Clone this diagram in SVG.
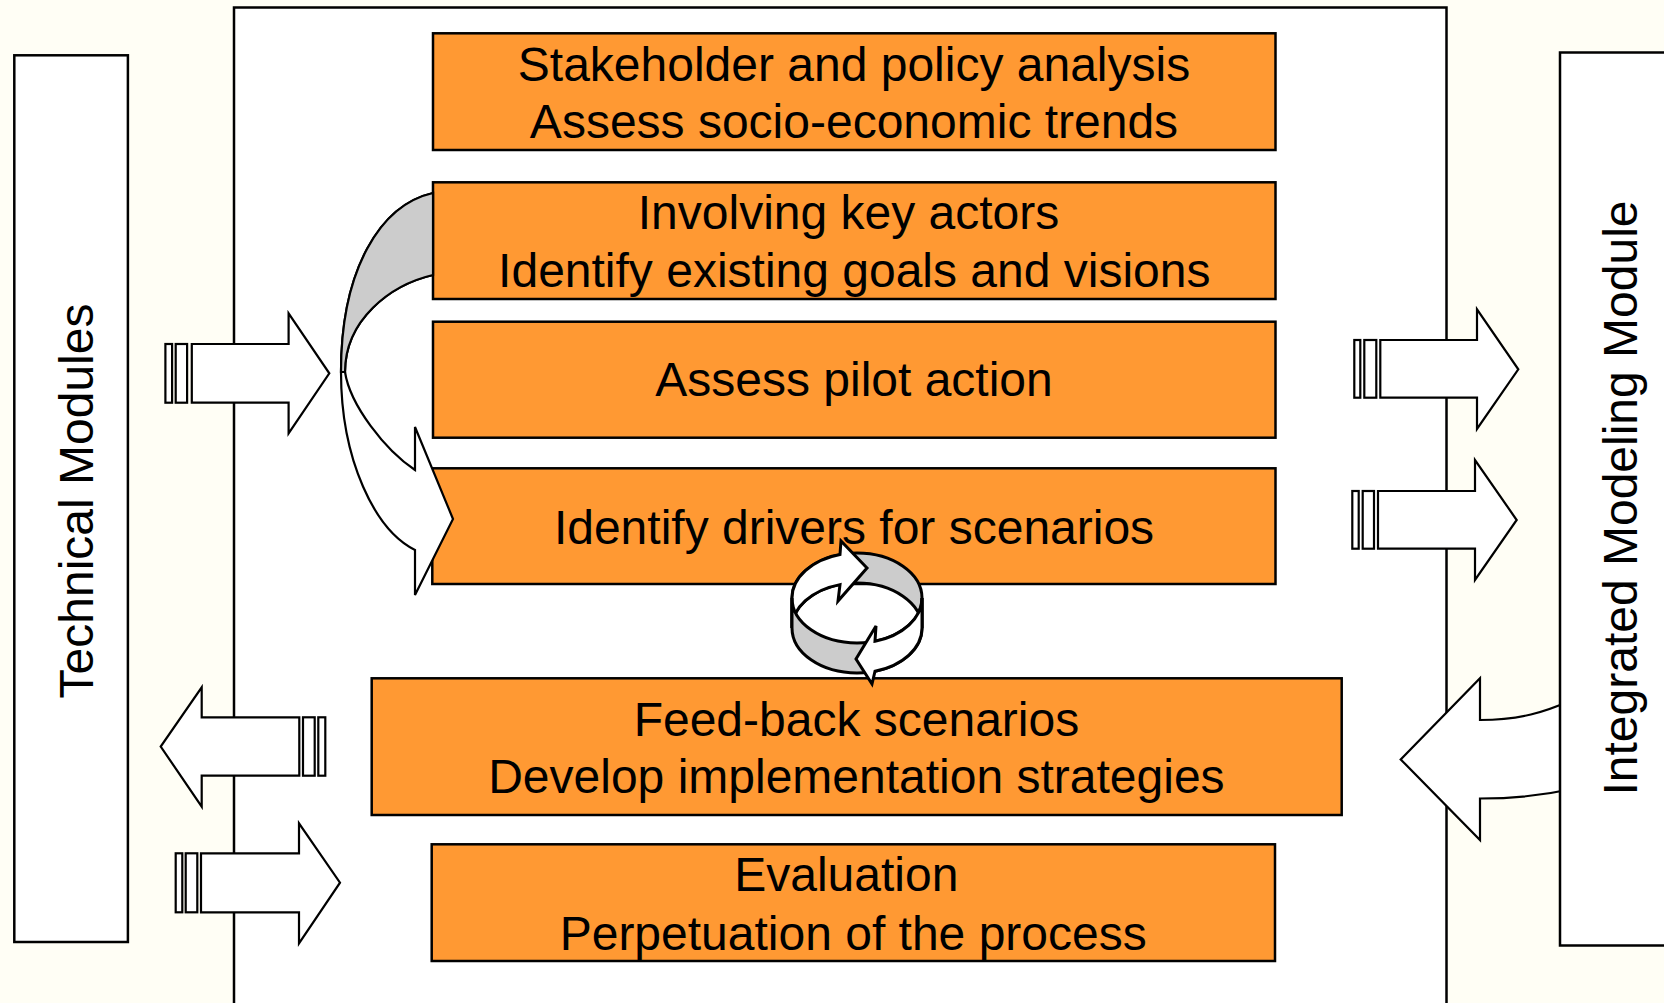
<svg xmlns="http://www.w3.org/2000/svg" width="1664" height="1003" viewBox="0 0 1664 1003">
<style>
.frame{fill:#ffffff;stroke:#000;stroke-width:2.5}
.box{fill:#ff9933;stroke:#000;stroke-width:2.5}
.lbl{font-family:"Liberation Sans",Arial,sans-serif;font-size:48px;fill:#000;text-anchor:middle}
.arr{fill:#ffffff;stroke:#000;stroke-width:2.2;stroke-linejoin:miter}
.gray{fill:#cccccc;stroke:#000;stroke-width:2.2}
.cyc{stroke:#000;stroke-width:3;stroke-linejoin:miter}
</style>
<rect x="0" y="0" width="1664" height="1003" fill="#fffef5"/>
<g id="process-frame"><rect class="frame" x="234" y="7.5" width="1212.5" height="1010"/></g>
<g id="technical-modules">
<rect class="frame" x="14.3" y="55.3" width="113.6" height="886.7"/>
<text class="lbl" transform="translate(93.3,501) rotate(-90)">Technical Modules</text>
</g>
<g id="box1">
<rect class="box" x="433" y="33.3" width="842.5" height="116.7"/>
<text class="lbl" x="854" y="81">Stakeholder and policy analysis</text>
<text class="lbl" x="854" y="137.7">Assess socio-economic trends</text>
</g>
<g id="box2">
<rect class="box" x="433" y="182.3" width="842.5" height="116.7"/>
<text class="lbl" x="848.5" y="229.3">Involving key actors</text>
<text class="lbl" x="854.3" y="286.7">Identify existing goals and visions</text>
</g>
<g id="box3">
<rect class="box" x="433" y="321.7" width="842.5" height="116"/>
<text class="lbl" x="854" y="396">Assess pilot action</text>
</g>
<g id="box4">
<rect class="box" x="432.3" y="468.3" width="843.2" height="115.7"/>
<text class="lbl" x="854" y="544">Identify drivers for scenarios</text>
</g>
<g id="box5">
<rect class="box" x="371.7" y="678.3" width="970" height="136.7"/>
<text class="lbl" x="856.4" y="736">Feed-back scenarios</text>
<text class="lbl" x="856.4" y="792.7">Develop implementation strategies</text>
</g>
<g id="box6">
<rect class="box" x="431.7" y="844.3" width="843.3" height="116.7"/>
<text class="lbl" x="846.3" y="891">Evaluation</text>
<text class="lbl" x="853.2" y="950">Perpetuation of the process</text>
</g>
<g id="connectors">
<g id="loop-arrow">
<path class="arr" d="M433,193 C380,205 341,270 341,372 C341,460 375,530 415,550 L415,595 L453,519 L415,427 L415,470 C385,450 350,405 345,372 C345,320 390,285 433,275 Z"/>
<path class="gray" d="M433,193 C380,205 341,270 341,372 L345,372 C345,320 390,285 433,275 Z"/>
</g>
<g id="arrow-in-top-left">
<rect class="arr" x="165.4" y="344" width="6.7" height="58.7"/>
<rect class="arr" x="175.7" y="344" width="11.4" height="58.7"/>
<path class="arr" d="M191.8,344 L288.6,344 L288.6,313.3 L329.3,373.3 L288.6,433.3 L288.6,402.7 L191.8,402.7 Z"/>
</g>
<g id="arrow-out-left">
<rect class="arr" x="303" y="717.3" width="11.7" height="58.4"/>
<rect class="arr" x="318.3" y="717.3" width="7" height="58.4"/>
<path class="arr" d="M299.3,717.3 L201.7,717.3 L201.7,687.3 L160.7,746.5 L201.7,806.7 L201.7,775.7 L299.3,775.7 Z"/>
</g>
<g id="arrow-in-bottom-left">
<rect class="arr" x="175.7" y="853.3" width="6.6" height="59"/>
<rect class="arr" x="185.7" y="853.3" width="11.6" height="59"/>
<path class="arr" d="M201,853.3 L299,853.3 L299,823.3 L340,882.7 L299,943.3 L299,912.3 L201,912.3 Z"/>
</g>
<g id="arrow-out-right-1">
<rect class="arr" x="1354.3" y="340" width="6" height="57.7"/>
<rect class="arr" x="1364.3" y="340" width="12" height="57.7"/>
<path class="arr" d="M1380.3,340 L1477,340 L1477,309.3 L1518.3,369.3 L1477,429 L1477,397.7 L1380.3,397.7 Z"/>
</g>
<g id="arrow-out-right-2">
<rect class="arr" x="1352.3" y="491" width="6.4" height="57.7"/>
<rect class="arr" x="1362.7" y="491" width="11.3" height="57.7"/>
<path class="arr" d="M1378,491 L1475,491 L1475,460 L1516.7,520 L1475,580 L1475,548.7 L1378,548.7 Z"/>
</g>
<g id="arrow-in-right">
<path class="arr" d="M1572,700 C1545,712 1520,720 1480,720 L1480,678.2 L1400.7,759.4 L1480,840 L1480,798.5 C1520,798.5 1545,795 1572,789 Z"/>
</g>
</g>
<g id="cycle-icon">
<path class="cyc" fill="#cccccc" d="M792,598 A65,45 0 0 1 922,598 L922,628 A65,45 0 0 0 792,628 Z"/>
<path class="cyc" fill="#ffffff" d="M792,598 A65,45 0 0 1 840,554.6 L841,541 L867,568 L838,601 L840,584.6 A65,45 0 0 0 792,628 Z"/>
<path class="cyc" fill="#cccccc" d="M792,598 A65,45 0 0 0 922,598 L922,628 A65,45 0 0 1 792,628 Z"/>
<path class="cyc" fill="#ffffff" d="M922,598 A65,45 0 0 1 875,641.2 L876,626 L856,659 L872,684 L875,671.2 A65,45 0 0 0 922,628 Z"/>
</g>
<g id="integrated-modeling-module">
<rect class="frame" x="1560" y="52.5" width="150" height="893"/>
<text class="lbl" transform="translate(1636.7,498) rotate(-90)">Integrated Modeling Module</text>
</g>
</svg>
